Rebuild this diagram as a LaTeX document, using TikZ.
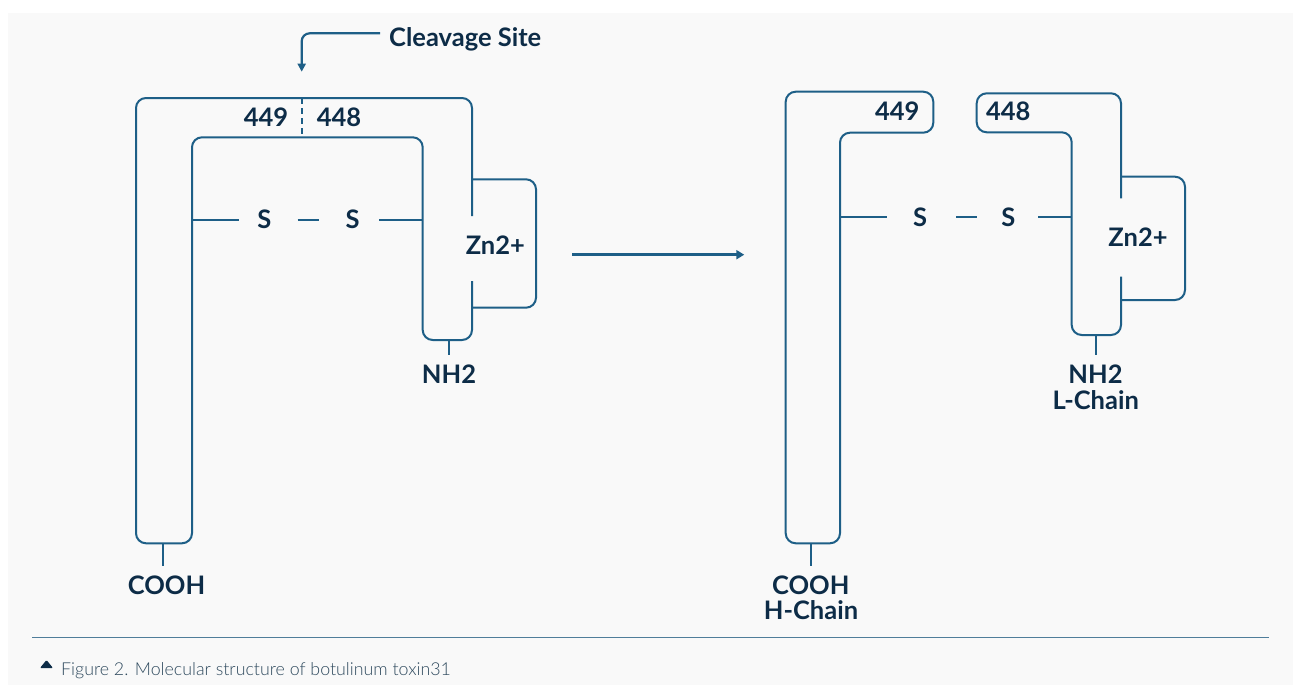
\documentclass[tikz,border=0pt]{standalone}
\usepackage{fontspec}
\setmainfont{Lato}
\newfontfamily\capfont{Lato Light}
\usetikzlibrary{arrows.meta}
\definecolor{bg}{HTML}{F9F9F9}
\definecolor{ln}{HTML}{1E5F87}
\definecolor{tx}{HTML}{0D2C47}
\definecolor{captx}{HTML}{2F4A5E}
\definecolor{rulec}{HTML}{4F7D9A}
\begin{document}
\begin{tikzpicture}[x=1pt,y=-1pt,
  chain/.style={draw=ln,line width=2pt,rounded corners=10pt},
  bond/.style={draw=ln,line width=2pt},
  lbl/.style={text=tx,font=\bfseries\fontsize{25.5}{27}\selectfont,inner sep=0pt},
  ptr/.style={draw=ln,line width=2.2pt,-{Triangle[length=8pt,width=8pt]}},
]
\fill[white] (0,0) rectangle (1293,688);
\fill[bg] (8,13) rectangle (1293,685);
\useasboundingbox (0,0) rectangle (1293,688);

% ---------- left: intact toxin ----------
\draw[chain] (472,216) -- (472,98) -- (136,98) -- (136,543.3) -- (192,543.3)
  -- (192,137.3) -- (422.7,137.3) -- (422.7,340) -- (472,340) -- (472,281);
\draw[chain] (472,179.3) -- (536,179.3) -- (536,307.7) -- (472,307.7);
\draw[bond,dash pattern=on 6pt off 4pt] (301.7,98) -- (301.7,137.3);

\node[lbl,anchor=base] (l449) at (266,126) {449};
\node[lbl,anchor=base] (l448) at (339,126) {448};
\node[lbl] (ls1) at (264.3,219.5) {S};
\node[lbl] (ls2) at (352.7,219.5) {S};
\coordinate (lhin) at (192,220);
\coordinate (llin) at (422.7,220);
\draw[bond,shorten >=25pt] (lhin) -- (ls1 |- lhin);
\draw[bond,shorten <=33.4pt,shorten >=33.4pt] (ls1 |- lhin) -- (ls2 |- lhin);
\draw[bond,shorten >=26.3pt] (llin) -- (ls2 |- llin);
\node[lbl,anchor=base] (lzn) at (495.3,254) {Zn2+};

\node[lbl,anchor=base] (lcooh) at (166.5,594.5) {COOH};
\coordinate (lcb) at (163.3,543.3);
\draw[bond,shorten >=10pt] (lcb) -- (lcb |- lcooh.north);
\node[lbl,anchor=base] (lnh) at (449,383) {NH2};
\coordinate (lnb) at (449.3,340);
\draw[bond,shorten >=9pt] (lnb) -- (lnb |- lnh.north);

% cleavage site pointer
\node[lbl,anchor=base west] (cs) at (389,46) {Cleavage Site};
\coordinate (cst) at (380,33.3);
\coordinate (cut) at (301.7,71.7);
\draw[ptr,rounded corners=8pt] (cst) -| (cut);

% ---------- middle arrow ----------
\coordinate (ma) at (572.3,254.7);
\coordinate (mb) at (744.3,254.7);
\draw[draw=ln,line width=2.5pt,-{Triangle[length=8pt,width=9pt]}] (ma) -- (mb);

% ---------- right: cleaved chains ----------
\draw[chain] (785.7,91.7) -- (933.3,91.7) -- (933.3,132.7) -- (840,132.7)
  -- (840,543.3) -- (785.7,543.3) -- cycle;
\draw[chain] (1121,198.3) -- (1121,93.3) -- (976.7,93.3) -- (976.7,132.3)
  -- (1071.7,132.3) -- (1071.7,335) -- (1121,335) -- (1121,276.7);
\draw[chain] (1121,176.7) -- (1185,176.7) -- (1185,300) -- (1121,300);

\node[lbl,anchor=base] (r449) at (897.2,120) {449};
\node[lbl,anchor=base] (r448) at (1008.3,120) {448};
\node[lbl] (rs1) at (920,217) {S};
\node[lbl] (rs2) at (1008.3,217) {S};
\coordinate (rhin) at (840,217.3);
\coordinate (rlin) at (1071.7,217.3);
\draw[bond,shorten >=32.7pt] (rhin) -- (rs1 |- rhin);
\draw[bond,shorten <=36pt,shorten >=31pt] (rs1 |- rhin) -- (rs2 |- rhin);
\draw[bond,shorten >=30pt] (rlin) -- (rs2 |- rlin);
\node[lbl,anchor=base] (rzn) at (1138,246.5) {Zn2+};

\node[lbl,anchor=base] (rcooh) at (810.7,594.5) {COOH};
\node[lbl,anchor=base] (rhc) at (811,619.3) {H-Chain};
\coordinate (rcb) at (811,543.3);
\draw[bond,shorten >=10pt] (rcb) -- (rcb |- rcooh.north);
\node[lbl,anchor=base] (rnh) at (1095.5,383) {NH2};
\node[lbl,anchor=base] (rlc) at (1095.8,409.3) {L-Chain};
\coordinate (rnb) at (1096,335);
\draw[bond,shorten >=9pt] (rnb) -- (rnb |- rnh.north);

% ---------- caption ----------
\coordinate (ra) at (32,637.3);
\coordinate (rb) at (1268.7,637.3);
\draw[rulec,line width=1.3pt] (ra) -- (rb);
\fill[tx,rounded corners=1pt] (40,668) -- (53,668) -- (46.5,660) -- cycle;
\node[anchor=base west,inner sep=0pt,text=captx,font=\capfont\fontsize{17.8}{19}\selectfont] (cap) at (61,675)
  {Figure 2. Molecular structure of botulinum toxin31};
\end{tikzpicture}
\end{document}
